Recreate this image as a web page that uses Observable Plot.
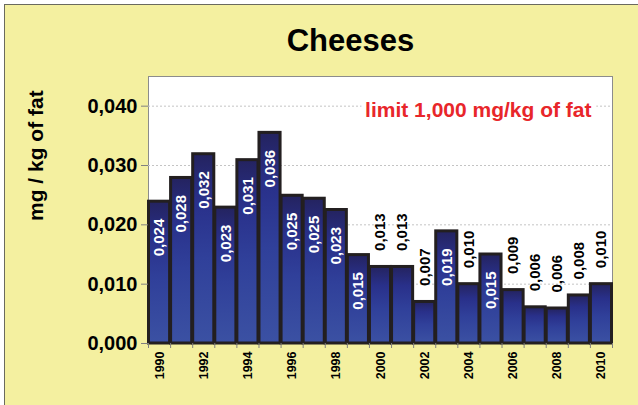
<!DOCTYPE html>
<html><head><meta charset="utf-8">
<script src="https://cdn.jsdelivr.net/npm/d3@7"></script>
<script src="https://cdn.jsdelivr.net/npm/@observablehq/plot@0.6"></script>
<style>
html,body{margin:0;padding:0;background:#fff;}
#wrap{position:relative;width:638px;height:405px;overflow:hidden;}
#panel{position:absolute;left:4px;top:4px;width:660px;height:420px;background:#F4F0A0;border-left:1.5px solid #6a6a5e;border-top:1.5px solid #6a6a5e;}
#title{position:absolute;left:150px;width:401px;top:23px;line-height:31px;text-align:center;font:bold 31px "Liberation Sans",Arial,sans-serif;color:#000;}
#chart{position:absolute;left:0;top:0;}
</style>
</head><body>
<div id="wrap"><div id="panel"></div><div id="title">Cheeses</div><div id="chart"></div></div>
<script>
const years = [1990,1991,1992,1993,1994,1995,1996,1997,1998,1999,2000,2001,2002,2003,2004,2005,2006,2007,2008,2009,2010];
const values = [0.0239,0.0279,0.0319,0.0229,0.0309,0.0355,0.0249,0.0244,0.0225,0.0149,0.0129,0.0129,0.0070,0.0189,0.0100,0.0150,0.0090,0.0061,0.0059,0.0081,0.0100];
const labels = ["0,024","0,028","0,032","0,023","0,031","0,036","0,025","0,025","0,023","0,015","0,013","0,013","0,007","0,019","0,010","0,015","0,009","0,006","0,006","0,008","0,010"];
const yTicks = [0,0.01,0.02,0.03,0.04];
const xLabelYears = [1990,1992,1994,1996,1998,2000,2002,2004,2006,2008,2010];
const title = "Cheeses";
const yTitle = "mg / kg of fat";
const note = "limit 1,000 mg/kg of fat";

const data = years.map((year,i)=>({year, value: values[i], label: labels[i]}));
const inside = data.filter(d=>d.value >= 0.014);
const outside = data.filter(d=>d.value < 0.014);
const boundaries = years.map(y=>y-0.5).concat([years[years.length-1]+0.5]);
const font = '"Liberation Sans", Arial, sans-serif';

const defs = () => {
  const g = d3.create("svg:defs");
  const lg = g.append("linearGradient").attr("id","barGrad").attr("x1",0).attr("y1",0).attr("x2",0).attr("y2",1);
  lg.append("stop").attr("offset","0").attr("stop-color","#24235f");
  lg.append("stop").attr("offset","0.25").attr("stop-color","#29308a");
  lg.append("stop").attr("offset","0.55").attr("stop-color","#30409a");
  lg.append("stop").attr("offset","1").attr("stop-color","#3b51a3");
  return g.node();
};

document.getElementById("title").textContent = title;

const chart = Plot.plot({
  width: 638, height: 405,
  marginLeft: 148, marginRight: 26, marginTop: 76, marginBottom: 62,
  style: {background: "transparent", fontFamily: font, color: "#000"},
  x: {type: "linear", domain: [1989.5, 2010.5]},
  y: {domain: [0, 0.045]},
  marks: [
    defs,
    Plot.frame({fill: "white", stroke: "#8c8c8c"}),
    Plot.gridY([0.01,0.02,0.03,0.04], {stroke: "#c4c4c4", strokeDasharray: "2,2", strokeOpacity: 1}),
    Plot.rectY(data, {x1: d=>d.year-0.5, x2: d=>d.year+0.5, y: "value", fill: "url(#barGrad)", stroke: "#231F20", strokeWidth: 3, insetLeft: 0.5, insetRight: 0.5}),
    Plot.axisY({ticks: yTicks, tickFormat: d=>d.toFixed(3).replace(".", ","), tickSize: 7, tickPadding: 4, fontSize: 20, fontWeight: "bold", stroke: "#808080", label: null}),
    Plot.axisX({ticks: boundaries, tickFormat: ()=>"", tickSize: 5, stroke: "#808080", label: null}),
    Plot.axisX({ticks: xLabelYears, tickFormat: d=>String(d), tickSize: 0, tickPadding: 8, rotate: -90, textAnchor: "end", lineAnchor: "middle", fontSize: 12.5, fontWeight: "bold", label: null}),
    Plot.text([yTitle], {frameAnchor: "left", rotate: -90, dx: -112, dy: 11, fontSize: 21, fontWeight: "bold", fill: "#000"}),
    Plot.text([note], {frameAnchor: "top-right", dx: -21, dy: 26, fontSize: 21, fontWeight: "bold", fill: "#e8262a", stroke: "white", strokeWidth: 10}),
    Plot.text(inside, {x: "year", y: "value", text: "label", rotate: -90, textAnchor: "end", lineAnchor: "middle", dy: 17, fill: "white", fontSize: 15, fontWeight: "bold"}),
    Plot.text(outside, {x: "year", y: "value", text: "label", rotate: -90, textAnchor: "start", lineAnchor: "middle", dy: -16, fill: "#000", fontSize: 15, fontWeight: "bold"})
  ]
});
document.getElementById("chart").appendChild(chart);
</script>
</body></html>
